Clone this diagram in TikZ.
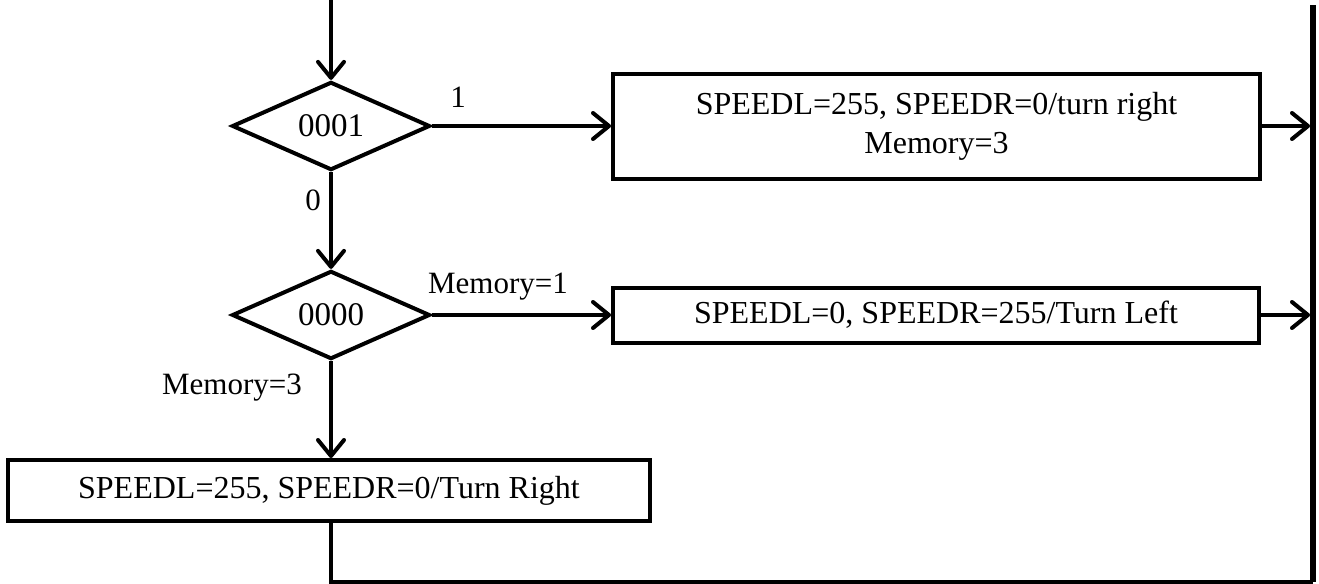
\documentclass[tikz,border=0pt]{standalone}
\usepackage{fontspec}
\setmainfont{Liberation Serif}
\usetikzlibrary{shapes.geometric,arrows.meta}
\begin{document}
\begin{tikzpicture}[x=0.5pt,y=-0.5pt,
  font=\fontsize{15.5}{19}\selectfont,
  box/.style={draw,rectangle,inner sep=0pt,align=center,line width=2pt,font=\fontsize{16}{17.5}\selectfont},
  dec/.style={draw,diamond,inner sep=0pt,minimum width=99pt,minimum height=43pt,line width=2pt,font=\fontsize{16.5}{19}\selectfont},
  arr/.style={-{Straight Barb[length=8pt,width=13pt,line cap=round,line join=round]},line width=2pt},
  flow/.style={line width=2pt},
  bus/.style={line width=3pt},
  lab/.style={inner sep=0pt}]
\useasboundingbox (0,0) rectangle (1319,584);
\coordinate (start) at (331,0);
\coordinate (bt) at (1313,5);
\coordinate (bb) at (1313,582);
\coordinate (corner) at (331,582);
\node[dec] (d1) at (331,126) {0001};
\node[dec] (d2) at (331,315) {0000};
\node[box,minimum width=323.5pt,minimum height=52.5pt] (b1) at (936.5,126) {SPEEDL=255, SPEEDR=0/turn right\\[2pt]Memory=3};
\node[box,minimum width=323pt,minimum height=27.5pt] (b2) at (936,315) {SPEEDL=0, SPEEDR=255/Turn Left};
\node[box,minimum width=321pt,minimum height=30.5pt] (b3) at (329,490.5) {SPEEDL=255, SPEEDR=0/Turn Right};
\node[lab] (l1) at (458,97) {1};
\node[lab] (l0) at (313,200) {0};
\node[lab] (lm1) at (498,287) {Memory=1};
\node[lab] (lm3) at (232,388) {Memory=3};
\draw[bus] (bt) -- (bb);
\draw[arr] (start) -- (d1.north);
\draw[arr] (d1.east) -- (b1.west);
\draw[arr] (d1.south) -- (d2.north);
\draw[arr] (d2.east) -- (b2.west);
\draw[arr] (d2.south) -- (b3.north -| d2.south);
\draw[arr,shorten >=1.5pt] (b1.east) -- (b1.east -| bt);
\draw[arr,shorten >=1.5pt] (b2.east) -- (b2.east -| bt);
\draw[flow] (b3.south -| d2.south) -- (corner) -- (bb);
\end{tikzpicture}
\end{document}
